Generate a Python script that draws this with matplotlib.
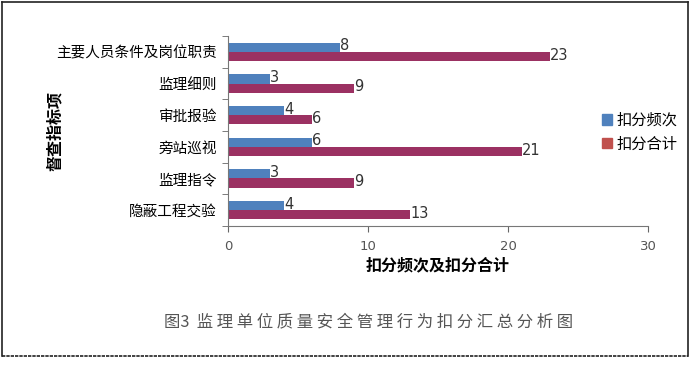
import matplotlib.pyplot as plt
import numpy as np

plt.rcParams['font.family'] = ['Noto Sans CJK SC', 'DejaVu Sans']

categories = ["主要人员条件及岗位职责", "监理细则", "审批报验", "旁站巡视", "监理指令", "隐蔽工程交验"]
freq = [8, 3, 4, 6, 3, 4]
total = [23, 9, 6, 21, 9, 13]
x_ticks = [0, 10, 20, 30]

blue = '#4F81BD'
purple = '#9B3162'

fig = plt.figure(figsize=(6.9, 3.68), dpi=100)
ax = fig.add_axes([228 / 690, 1 - 226 / 368, 420 / 690, 190 / 368])

y = np.arange(len(categories))[::-1]
h = 0.29
b1 = ax.barh(y + h / 2, freq, height=h, color=blue, label="扣分频次")
b2 = ax.barh(y - h / 2, total, height=h, color=purple, label="扣分合计")

for bars, vals in ((b1, freq), (b2, total)):
    for r, v in zip(bars, vals):
        ax.text(r.get_width(), r.get_y() + r.get_height() / 2 + 0.04, str(v),
                va='center', ha='left', fontsize=10.5, color='#333333',
                family='DejaVu Sans')

ax.set_xlim(0, 30)
ax.set_ylim(-0.5, len(categories) - 0.5)
ax.set_xticks(x_ticks)
ax.set_xticklabels([str(t) for t in x_ticks], family='DejaVu Sans', color='#555555', fontsize=9.5)
ax.set_yticks(y)
ax.set_yticklabels(categories, fontsize=10.5)
ax.set_yticks(np.arange(-0.5, len(categories), 1), minor=True)
ax.tick_params(axis='y', which='major', length=0, pad=8)
ax.tick_params(axis='y', which='minor', length=4, color='#666666')
ax.tick_params(axis='x', length=4, color='#666666', pad=6)
for s in ('top', 'right'):
    ax.spines[s].set_visible(False)
for s in ('left', 'bottom'):
    ax.spines[s].set_color('#777777')

ax.set_xlabel("扣分频次及扣分合计", fontsize=11.5, fontweight='bold', labelpad=3)
ax.set_ylabel("督查指标项", fontsize=11.5, fontweight='bold')
ax.yaxis.set_label_coords(-165 / 420, 0.5)

h1 = plt.Rectangle((0, 0), 1, 1, color=blue)
h2 = plt.Rectangle((0, 0), 1, 1, color='#C0504D')
fig.legend([h1, h2], ["扣分频次", "扣分合计"], loc='center left',
           bbox_to_anchor=(588 / 690, 1 - 132 / 368), frameon=False, fontsize=11,
           handlelength=0.7, handleheight=0.7, handletextpad=0.3, labelspacing=0.45)

fig.text(369 / 690, 1 - 322 / 368, "图3  监 理 单 位 质 量 安 全 管 理 行 为 扣 分 汇 总 分 析 图",
         ha='center', va='center', fontsize=11.8, color='#555555')

# outer frame
fig.add_artist(plt.Line2D([2 / 690, 688 / 690], [1 - 1.5 / 368, 1 - 1.5 / 368], color='#222222', lw=1.2))
fig.add_artist(plt.Line2D([2 / 690, 2 / 690], [1 - 1.5 / 368, 1 - 356 / 368], color='#222222', lw=1.2))
fig.add_artist(plt.Line2D([688 / 690, 688 / 690], [1 - 1.5 / 368, 1 - 356 / 368], color='#222222', lw=1.2))
fig.add_artist(plt.Line2D([2 / 690, 688 / 690], [1 - 356 / 368, 1 - 356 / 368], color='#222222', lw=1.2,
                          linestyle=(0, (2, 0.6))))

fig.savefig("out.png", dpi=100)
